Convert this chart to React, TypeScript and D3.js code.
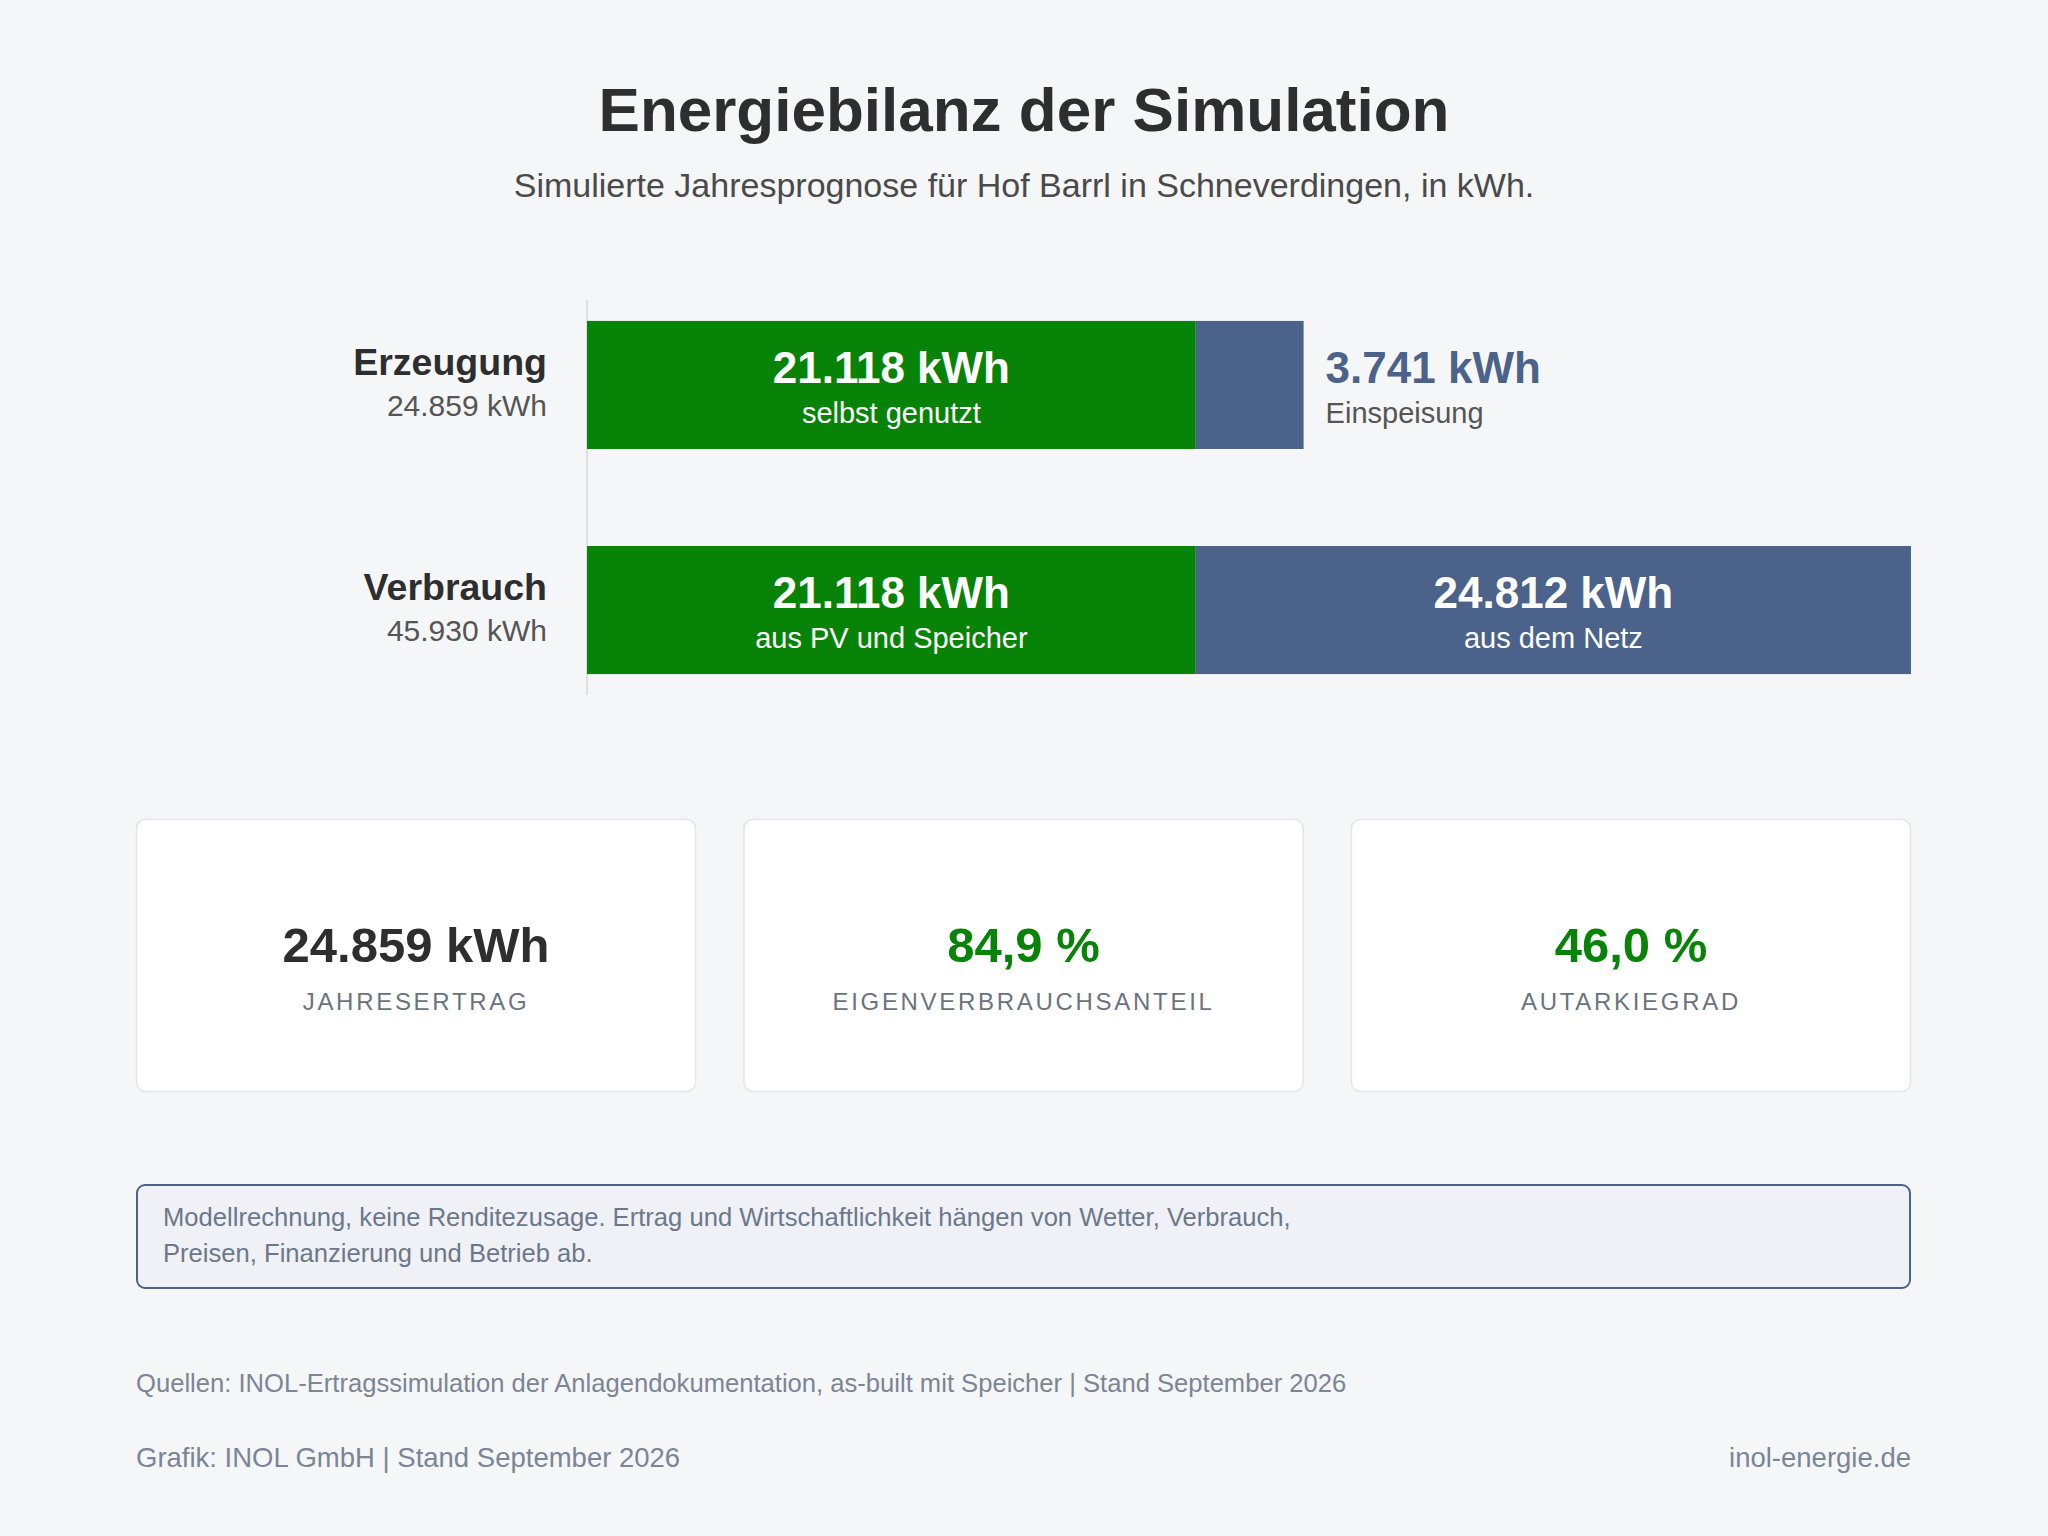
import * as d3 from "d3";

// Jahreswerte der Simulation (kWh)
const categories = ["Erzeugung", "Verbrauch"];
const totals = [24859, 45930];
const ownValues = [21118, 21118];
const gridValues = [3741, 24812];
const ownLabels = ["selbst genutzt", "aus PV und Speicher"];
const gridLabels = ["Einspeisung", "aus dem Netz"];

const kpiValues = ["24.859 kWh", "84,9 %", "46,0 %"];
const kpiLabels = ["JAHRESERTRAG", "EIGENVERBRAUCHSANTEIL", "AUTARKIEGRAD"];
const kpiAccent = [false, true, true];

const noteLines = [
  "Modellrechnung, keine Renditezusage. Ertrag und Wirtschaftlichkeit hängen von Wetter, Verbrauch,",
  "Preisen, Finanzierung und Betrieb ab.",
];

const W = 2048;
const H = 1536;
const FONT = "'Liberation Sans', Arial, Helvetica, sans-serif";
const GREEN = "#078307";
const BLUE = "#4b628b";
const BG = "#f5f6f8";
const MUTED = "#6c7889";

const de = d3.formatLocale({
  decimal: ",",
  thousands: ".",
  grouping: [3],
  currency: ["", " €"],
});
const fmt = (v: number) => `${de.format(",")(v)} kWh`;

export default function App() {
  const left = 587;
  const right = 1911;

  const x = d3
    .scaleLinear()
    .domain([0, d3.max(totals) as number])
    .range([left, right]);

  const y = d3
    .scaleBand<string>()
    .domain(categories)
    .range([300, 695])
    .paddingInner(0.431)
    .paddingOuter(0.093);

  const bw = y.bandwidth();

  // KPI cards
  const cardX = d3
    .scaleBand<number>()
    .domain(d3.range(kpiValues.length))
    .range([136, 1911])
    .paddingInner(0.078);

  return (
    <svg
      width={W}
      height={H}
      viewBox={`0 0 ${W} ${H}`}
      style={{ position: "absolute", left: 0, top: 0, display: "block" }}
      fontFamily={FONT}
    >
      <rect width={W} height={H} fill={BG} />

      <text x={W / 2} y={131} textAnchor="middle" fontSize={62} fontWeight="bold" fill="#2e2e2e">
        Energiebilanz der Simulation
      </text>
      <text x={W / 2} y={197} textAnchor="middle" fontSize={34} fill="#4a4a4a">
        Simulierte Jahresprognose für Hof Barrl in Schneverdingen, in kWh.
      </text>

      {/* axis baseline */}
      <line x1={left} x2={left} y1={300} y2={695} stroke="#dcdfe4" strokeWidth={2} />

      {categories.map((c, i) => {
        const y0 = y(c) as number;
        const cy = y0 + bw / 2;
        const gx0 = x(0);
        const gx1 = x(ownValues[i]);
        const bx1 = x(ownValues[i] + gridValues[i]);
        const inside = bx1 - gx1 > 300;
        return (
          <g key={c}>
            <text x={547} y={cy - 10} textAnchor="end" fontSize={37.5} fontWeight="bold" fill="#2e2e2e">
              {c}
            </text>
            <text x={547} y={cy + 31} textAnchor="end" fontSize={30} fill="#555">
              {fmt(totals[i])}
            </text>

            <rect x={gx0} y={y0} width={gx1 - gx0} height={bw} fill={GREEN} />
            <rect x={gx1} y={y0} width={bx1 - gx1} height={bw} fill={BLUE} />

            <text x={(gx0 + gx1) / 2} y={cy - 2} textAnchor="middle" fontSize={44} fontWeight="bold" fill="#fff">
              {fmt(ownValues[i])}
            </text>
            <text x={(gx0 + gx1) / 2} y={cy + 38} textAnchor="middle" fontSize={29} fill="#fff">
              {ownLabels[i]}
            </text>

            {inside ? (
              <>
                <text x={(gx1 + bx1) / 2} y={cy - 2} textAnchor="middle" fontSize={44} fontWeight="bold" fill="#fff">
                  {fmt(gridValues[i])}
                </text>
                <text x={(gx1 + bx1) / 2} y={cy + 38} textAnchor="middle" fontSize={29} fill="#fff">
                  {gridLabels[i]}
                </text>
              </>
            ) : (
              <>
                <text x={bx1 + 22} y={cy - 2} fontSize={44} fontWeight="bold" fill={BLUE}>
                  {fmt(gridValues[i])}
                </text>
                <text x={bx1 + 22} y={cy + 38} fontSize={29} fill="#555">
                  {gridLabels[i]}
                </text>
              </>
            )}
          </g>
        );
      })}

      {kpiValues.map((v, i) => {
        const cx = cardX(i) as number;
        const w = cardX.bandwidth();
        return (
          <g key={kpiLabels[i]}>
            <rect x={cx + 0.5} y={819.5} width={w - 1} height={272} rx={9} fill="#fff" stroke="#e2e5ea" strokeWidth={1.5} />
            <text x={cx + w / 2} y={962} textAnchor="middle" fontSize={49} fontWeight="bold" fill={kpiAccent[i] ? GREEN : "#2e2e2e"}>
              {v}
            </text>
            <text x={cx + w / 2} y={1010} textAnchor="middle" fontSize={24} letterSpacing={2.7} fill="#6b7280">
              {kpiLabels[i]}
            </text>
          </g>
        );
      })}

      <rect x={137} y={1185} width={1773} height={103} rx={8} fill="#eff1f6" stroke={BLUE} strokeWidth={2} />
      {noteLines.map((l, i) => (
        <text key={i} x={163} y={1226 + i * 36} fontSize={25.6} fill={MUTED}>
          {l}
        </text>
      ))}

      <text x={136} y={1392} fontSize={25.6} fill="#7b8595">
        Quellen: INOL-Ertragssimulation der Anlagendokumentation, as-built mit Speicher | Stand September 2026
      </text>
      <text x={136} y={1467} fontSize={27.5} fill="#7b8595">
        Grafik: INOL GmbH | Stand September 2026
      </text>
      <text x={1911} y={1467} textAnchor="end" fontSize={27.5} fill="#7b8595">
        inol-energie.de
      </text>
    </svg>
  );
}
